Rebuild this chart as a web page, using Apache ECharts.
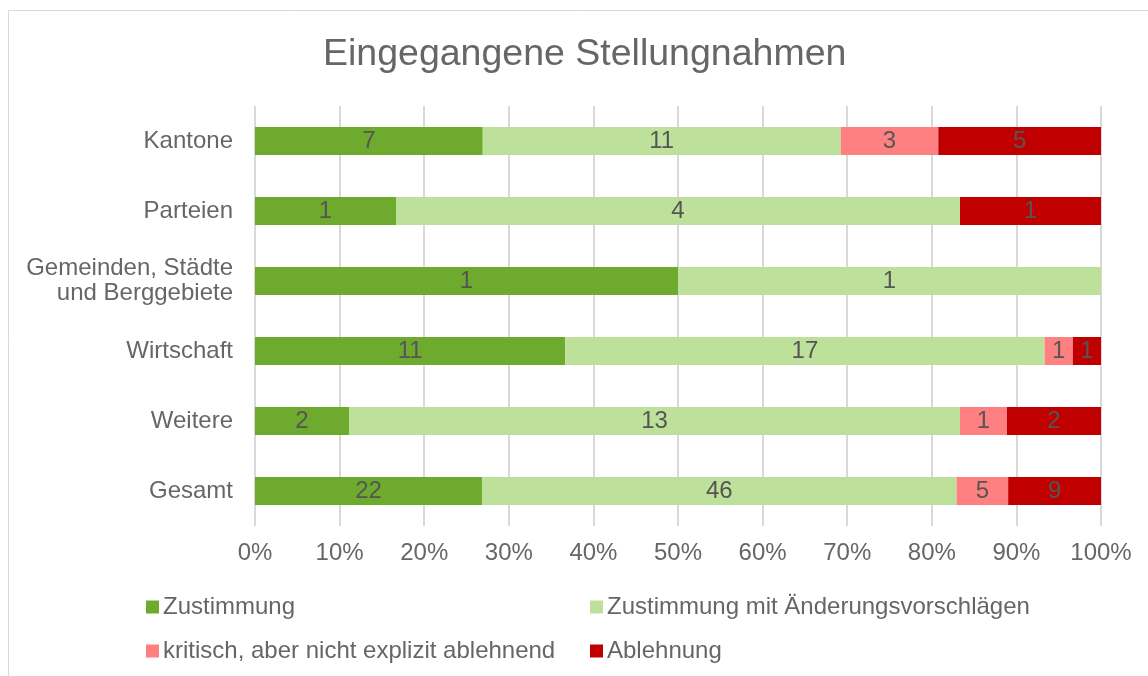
<!DOCTYPE html>
<html>
<head>
<meta charset="utf-8">
<script src="https://cdn.jsdelivr.net/npm/echarts@6/dist/echarts.min.js"></script>
<style>
  html, body { margin: 0; padding: 0; background: #fff; }
  #chart { width: 1148px; height: 676px; }
</style>
</head>
<body>
<div id="chart"></div>
<script>
// categories top to bottom
var categories = ['Kantone', 'Parteien', 'Gemeinden, Städte\nund Berggebiete', 'Wirtschaft', 'Weitere', 'Gesamt'];
var seriesNames = ['Zustimmung', 'Zustimmung mit Änderungsvorschlägen', 'kritisch, aber nicht explizit ablehnend', 'Ablehnung'];
var zustimmung = [7, 1, 1, 11, 2, 22];
var mitAenderung = [11, 4, 1, 17, 13, 46];
var kritisch = [3, 0, 0, 1, 1, 5];
var ablehnung = [5, 1, 0, 1, 2, 9];
var colors = ['#6eaa2e', '#bde19a', '#ff8080', '#c00000'];
var xTicks = ['0%', '10%', '20%', '30%', '40%', '50%', '60%', '70%', '80%', '90%', '100%'];

var counts = [zustimmung, mitAenderung, kritisch, ablehnung];
var totals = categories.map(function (c, i) {
    return zustimmung[i] + mitAenderung[i] + kritisch[i] + ablehnung[i];
});
var FONT = 'Liberation Sans, Arial, sans-serif';

var myChart = echarts.init(document.getElementById('chart'));

var series = counts.map(function (arr, k) {
    return {
        name: seriesNames[k],
        type: 'bar',
        stack: 'total',
        barCategoryGap: '60%',
        itemStyle: { color: colors[k] },
        label: {
            show: true,
            position: 'inside',
            color: '#555',
            fontSize: 24,
            fontFamily: FONT,
            formatter: function (p) {
                var v = arr[p.dataIndex];
                return v ? String(v) : '';   // no label for empty segments
            }
        },
        data: arr.map(function (v, i) { return v / totals[i] * 100; })
    };
});

function legendAt(name, left, top) {
    return {
        data: [name],
        left: left,
        top: top,
        itemWidth: 13,
        itemHeight: 13,
        icon: 'rect',
        textStyle: { color: '#666', fontSize: 24, fontFamily: FONT, padding: [0, 0, 0, -1] },
        selectedMode: false
    };
}

option = {
    backgroundColor: '#fff',
    graphic: [{
        type: 'rect',
        shape: { x: 8.5, y: 10.5, width: 1160, height: 700 },
        style: { fill: 'none', stroke: '#d9d9d9', lineWidth: 1 },
        silent: true
    }],
    title: {
        text: 'Eingegangene Stellungnahmen',
        left: 318,
        top: 31,
        textStyle: { color: '#666', fontSize: 37.5, fontWeight: 'normal', fontFamily: FONT }
    },
    legend: [
        legendAt(seriesNames[0], 141, 590),
        legendAt(seriesNames[1], 585, 590),
        legendAt(seriesNames[2], 141, 634),
        legendAt(seriesNames[3], 585, 634)
    ],
    grid: { left: 255, right: 47, top: 106, bottom: 150, containLabel: false },
    xAxis: {
        type: 'value',
        min: 0,
        max: 100,
        interval: 10,
        axisLine: { show: false },
        axisTick: { show: false },
        splitLine: { lineStyle: { color: '#d9d9d9', width: 2 } },
        axisLabel: {
            margin: 15,
            color: '#666',
            fontSize: 24,
            fontFamily: FONT,
            formatter: function (v) { return xTicks[Math.round(v / 10)]; }
        }
    },
    yAxis: {
        type: 'category',
        inverse: true,
        data: categories,
        axisLine: { show: false },
        axisTick: { show: false },
        axisLabel: {
            margin: 22,
            color: '#666',
            fontSize: 24,
            lineHeight: 25,
            align: 'right',
            fontFamily: FONT
        }
    },
    series: series
};
myChart.setOption(option);
</script>
</body>
</html>
